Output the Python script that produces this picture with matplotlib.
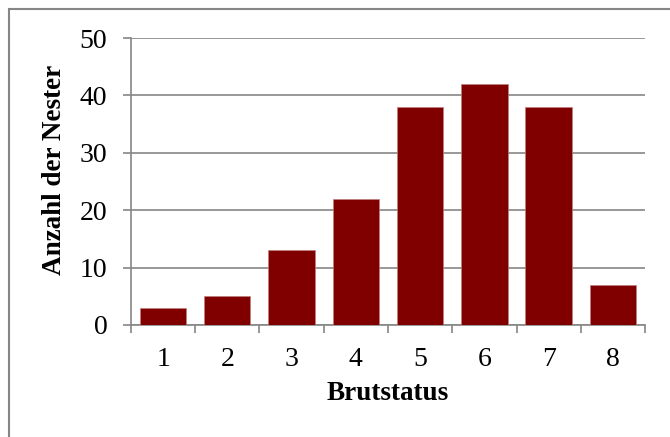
import matplotlib.pyplot as plt
from matplotlib.patches import Rectangle

plt.rcParams['font.family'] = ['Liberation Serif', 'DejaVu Serif']

# Daten
brutstatus = ['1', '2', '3', '4', '5', '6', '7', '8']
anzahl = [3, 5, 13, 22, 38, 42, 38, 7]
y_ticks = [0, 10, 20, 30, 40, 50]

grau = '#868686'

fig = plt.figure(figsize=(6.7, 4.37), dpi=100)
ax = fig.add_axes([0.1955, 0.2563, 0.7672, 0.6567])

x = list(range(len(brutstatus)))
ax.bar(x, anzahl, width=0.72, color='#800000', edgecolor='#c08080', linewidth=0.5, zorder=3)

ax.set_xlim(-0.5, len(brutstatus) - 0.5)
ax.set_ylim(0, 50)
ax.set_yticks(y_ticks)
ax.set_xticks(x)
ax.set_xticklabels(brutstatus)
ax.set_xticks([i - 0.5 for i in range(len(brutstatus) + 1)], minor=True)

ax.yaxis.grid(True, color=grau, linewidth=1.2, zorder=0)
ax.tick_params(axis='y', length=6, width=1.2, color=grau, labelsize=20, pad=11)
ax.tick_params(axis='x', which='major', length=0, labelsize=20, pad=16)
ax.tick_params(axis='x', which='minor', length=6, width=1.2, color=grau)

for s in ['top', 'right']:
    ax.spines[s].set_visible(False)
for s in ['left', 'bottom']:
    ax.spines[s].set_color(grau)
    ax.spines[s].set_linewidth(1.2)

ax.set_xlabel('Brutstatus', fontsize=19.5, fontweight='bold', labelpad=6)
ax.set_ylabel('Anzahl der Nester', fontsize=19.5, fontweight='bold')
ax.yaxis.set_label_coords(-0.125, 0.54)

# Rahmen um das Diagramm (rechts und unten abgeschnitten)
fig.patches.append(Rectangle((9 / 670, -0.1), 1.0, 1 - 9 / 437 + 0.1,
                             transform=fig.transFigure, fill=False,
                             edgecolor=grau, linewidth=1.5))

fig.savefig('out.png', dpi=100)
